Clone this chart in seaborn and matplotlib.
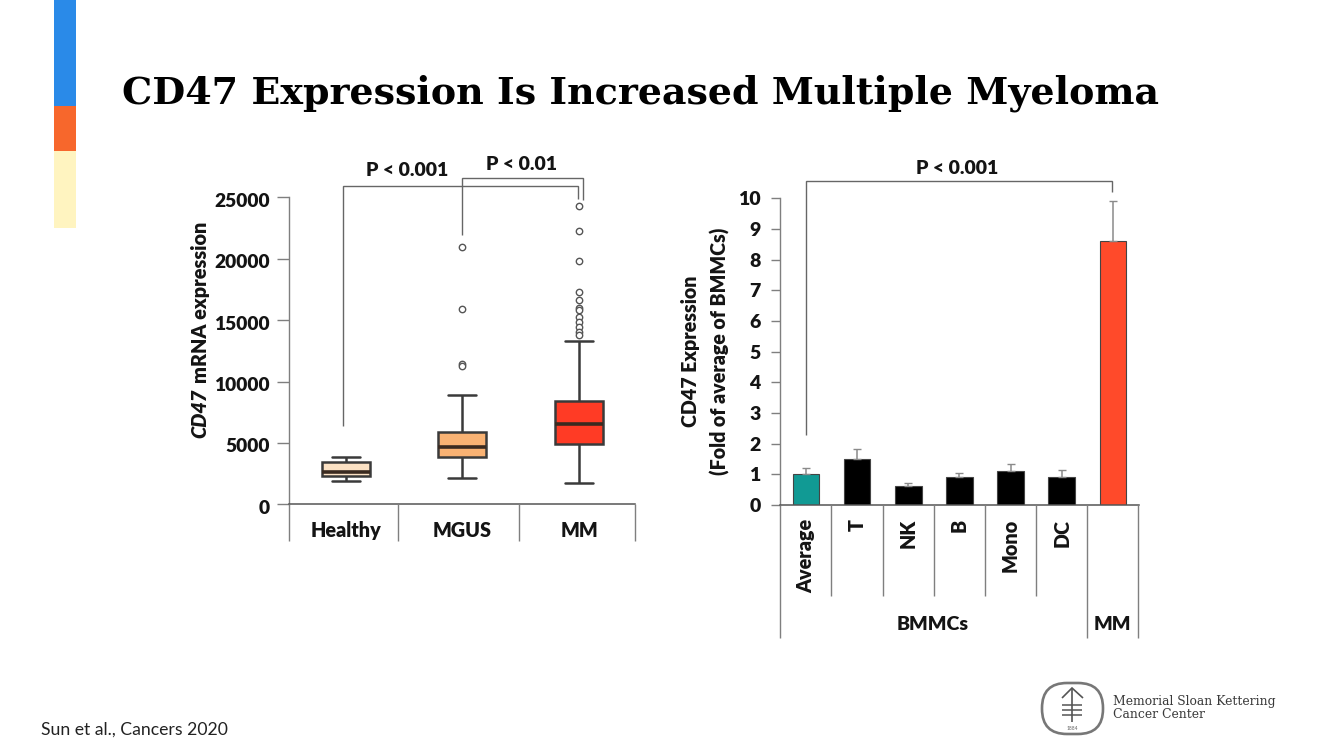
import matplotlib
matplotlib.use("Agg")
import matplotlib.pyplot as plt
from matplotlib.patches import FancyBboxPatch, Rectangle
from matplotlib.transforms import ScaledTranslation
import numpy as np
import pandas as pd
import seaborn as sns

# ---------- data ----------
BOX_GROUPS = ["Healthy", "MGUS", "MM"]
HEALTHY_BOX = [1900, 2300, 2660, 3450, 3880]   # low whisker, q1, median, q3, high whisker
MGUS_BOX = [2120, 3830, 4640, 5920, 8900]
MM_BOX = [1710, 4910, 6570, 8440, 13270]
MGUS_OUTLIERS = [20930, 15930, 11430, 11260]
MM_OUTLIERS = [24290, 22260, 19790, 17320, 16640, 16020, 15820, 15280, 14870, 14470, 14060, 13790]
BOX_COLORS = ["#FBE1C4", "#F9B273", "#FF3B25"]
BOX_TICKS = [0, 5000, 10000, 15000, 20000, 25000]

BAR_GROUPS = ["Average", "T", "NK", "B", "Mono", "DC", "MM"]
BAR_VALUES = [1.0, 1.5, 0.63, 0.92, 1.1, 0.92, 8.6]
BAR_TOPS = [1.2, 1.82, 0.73, 1.03, 1.34, 1.14, 9.92]
BAR_COLORS = ["#119A94", "#000000", "#000000", "#000000", "#000000", "#000000", "#FF4A2A"]
BAR_TICKS = list(range(0, 11))

W, H = 1333, 750
AXIS_GREY = "#7f7f7f"
TEXT_DARK = "#141414"
WEIGHT = "heavy"


def px_axes(fig, left, right, top, bottom):
    """Add axes from pixel edges, measured from the top left of the picture."""
    return fig.add_axes([left / W, 1 - bottom / H, (right - left) / W, (bottom - top) / H])


sns.set_theme(style="white")
plt.rcParams["font.family"] = ["Lato", "DejaVu Sans"]

fig = plt.figure(figsize=(W / 100, H / 100), dpi=100, facecolor="white")

# ---------- left panel: boxplots ----------
ax1 = px_axes(fig, 288.7, 635, 197.3, 504.3)
box_df = pd.DataFrame({
    "group": ["Healthy"] * 5 + ["MGUS"] * 5 + ["MM"] * 5,
    "value": HEALTHY_BOX + MGUS_BOX + MM_BOX,
})
out_df = pd.DataFrame({
    "group": ["MGUS"] * len(MGUS_OUTLIERS) + ["MM"] * len(MM_OUTLIERS),
    "value": MGUS_OUTLIERS + MM_OUTLIERS,
})
sns.boxplot(data=box_df, x="group", y="value", hue="group", order=BOX_GROUPS,
            hue_order=BOX_GROUPS, palette=BOX_COLORS, legend=False, dodge=False,
            width=0.41, whis=(0, 100), linecolor="#3a3a3a", linewidth=1.8,
            capwidths=0.24, medianprops={"linewidth": 2.6, "color": "#3a2a20"},
            saturation=1, ax=ax1)
sns.stripplot(data=out_df, x="group", y="value", order=BOX_GROUPS, jitter=False,
              color="white", edgecolor="#555555", linewidth=1, size=4.6, ax=ax1)
ax1.set_xlim(-0.488, 2.479)
ax1.set_ylim(0, 25000)
ax1.set_yticks(BOX_TICKS)
ax1.set_xticks(range(3))
ax1.set_xticklabels(BOX_GROUPS, fontweight=WEIGHT)
ax1.set_xlabel("")
# the gene name is set in italics, so it goes on as its own text further down
ax1.set_ylabel("mRNA expression", fontsize=14.3, fontweight=WEIGHT,
               color=TEXT_DARK, ha="center", va="center")
ax1.yaxis.set_label_coords(-0.256, 0.657)
ax1.tick_params(axis="y", length=8.6, width=1, color=AXIS_GREY, pad=5, left=True,
                labelsize=13.8, labelcolor=TEXT_DARK)
ax1.tick_params(axis="x", length=0, pad=12, labelsize=14.2, labelcolor=TEXT_DARK)
for lab in ax1.get_yticklabels():
    lab.set_fontweight(WEIGHT)
    # the labels sit slightly under their ticks in the source figure
    lab.set_transform(lab.get_transform() + ScaledTranslation(0, -2.5 / 100, fig.dpi_scale_trans))

# ---------- right panel: bars ----------
ax2 = px_axes(fig, 780.3, 1138.5, 198.3, 505)
bar_df = pd.DataFrame({"group": BAR_GROUPS, "value": BAR_VALUES})
sns.barplot(data=bar_df, x="group", y="value", hue="group", order=BAR_GROUPS,
            hue_order=BAR_GROUPS, palette=BAR_COLORS, legend=False, dodge=False,
            width=0.52, saturation=1, edgecolor="#444444", linewidth=0.8, ax=ax2)
upper_err = np.array(BAR_TOPS) - np.array(BAR_VALUES)
ax2.errorbar(range(len(BAR_GROUPS)), BAR_VALUES, yerr=[np.zeros(len(upper_err)), upper_err],
             fmt="none", ecolor="#8a8a8a", elinewidth=1.1, capsize=2.6, capthick=1, zorder=1)
ax2.set_xlim(-0.5, 6.5)
ax2.set_ylim(0, 10)
ax2.set_yticks(BAR_TICKS)
ax2.set_xticks(range(6))
ax2.set_xticklabels(BAR_GROUPS[:6], rotation=90, va="top", ha="center", fontweight=WEIGHT)
ax2.set_xlabel("")
ax2.set_ylabel("CD47 Expression\n(Fold of average of BMMCs)", fontsize=14.1, fontweight=WEIGHT,
               color=TEXT_DARK, ha="center", va="center", linespacing=1.6)
ax2.yaxis.set_label_coords(-0.2075, 0.5)
ax2.tick_params(axis="y", length=6.2, width=1, color=AXIS_GREY, pad=8, left=True,
                labelsize=14, labelcolor=TEXT_DARK)
ax2.tick_params(axis="x", length=0, pad=10, labelsize=14.2, labelcolor=TEXT_DARK)
for lab in ax2.get_yticklabels():
    lab.set_fontweight(WEIGHT)

for ax in (ax1, ax2):
    sns.despine(ax=ax, top=True, right=True)
    ax.spines["left"].set_color(AXIS_GREY)
    ax.spines["bottom"].set_color("#555555")
    ax.spines["left"].set_linewidth(1)
    ax.spines["bottom"].set_linewidth(1.1)

# ---------- overlay in pixel coordinates: brackets, dividers, slide furniture ----------
ov = fig.add_axes([0, 0, 1, 1], zorder=5)
ov.set_xlim(0, W)
ov.set_ylim(H, 0)
ov.axis("off")
ov.patch.set_alpha(0)


def path(xs, ys, color="#666666", lw=1):
    ov.plot(xs, ys, color=color, lw=lw, solid_capstyle="butt", solid_joinstyle="miter")


ov.text(199.5, 438, "CD47", rotation=90, ha="center", va="bottom", fontsize=14.3,
        fontweight=WEIGHT, fontstyle="italic", color=TEXT_DARK)

# left panel axis extensions and group dividers
for x in [288.7, 398, 519, 635]:
    path([x, x], [504.3, 541], AXIS_GREY)

# right panel dividers
for x in [831.3, 882.7, 933.7, 984.7, 1035.7]:
    path([x, x], [505, 596], AXIS_GREY)
for x in [780.3, 1086.7, 1138.3]:
    path([x, x], [505, 638], AXIS_GREY)

# significance brackets
path([342.7, 342.7, 578, 578], [426, 185.7, 185.7, 199])
path([462, 462, 583.3, 583.3], [235, 178.3, 178.3, 199.5])
path([806.3, 806.3, 1112.3, 1112.3], [435, 181, 181, 191.7])
label_kw = dict(ha="center", va="center", fontsize=14, fontweight=WEIGHT, color=TEXT_DARK)
ov.text(406.7, 170.7, "P < 0.001", **label_kw)
ov.text(521.3, 164, "P < 0.01", **label_kw)
ov.text(957.3, 168.3, "P < 0.001", **label_kw)
ov.text(933, 625, "BMMCs", **label_kw)
ov.text(1112, 625, "MM", **label_kw)

# slide title and accent bar
ov.text(122, 93, "CD47 Expression Is Increased Multiple Myeloma", ha="left", va="center",
        fontsize=27.4, fontweight="bold", family="DejaVu Serif", color="#000000")
ov.add_patch(Rectangle((54, 0), 22, 106, color="#2A8AE8", lw=0))
ov.add_patch(Rectangle((54, 106), 22, 45, color="#F7672C", lw=0))
ov.add_patch(Rectangle((54, 151), 22, 77, color="#FFF4C0", lw=0))

# footer
ov.text(41, 730, "Sun et al., Cancers 2020", ha="left", va="center", fontsize=12.7,
        color="#222222")

# logo
ov.add_patch(FancyBboxPatch((1042, 683), 61, 51, boxstyle="round,pad=0,rounding_size=25",
                            fill=False, ec="#777777", lw=1.9))
path([1072, 1072], [688, 722], "#555555", 1.2)
path([1062, 1072, 1083], [698, 688, 698], "#555555", 1.2)
for y in [705, 710, 715]:
    path([1062, 1082], [y, y], "#555555", 1.1)
ov.text(1072, 729, "1884", ha="center", va="center", fontsize=3.5, color="#666666")
ov.text(1113, 702, "Memorial Sloan Kettering", ha="left", va="center", fontsize=8.9,
        family="DejaVu Serif", color="#3a3a3a")
ov.text(1113, 714, "Cancer Center", ha="left", va="center", fontsize=8.9,
        family="DejaVu Serif", color="#3a3a3a")

fig.savefig("out.png", dpi=100)
